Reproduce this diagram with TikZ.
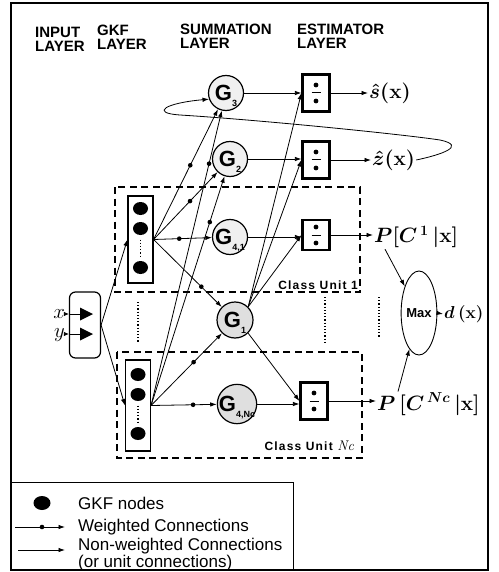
\documentclass[tikz,border=0pt]{standalone}
\usepackage{amsmath}
\usepackage{fontspec}
\newfontfamily\arial{Liberation Sans}
\usetikzlibrary{arrows.meta,shapes.geometric,calc}
\newcommand{\gsub}[1]{\smash{\raisebox{-6pt}{\fontsize{9}{9}\selectfont #1}}}
\begin{document}
\begin{tikzpicture}[x=1pt,y=-1pt,
  >={Latex[length=6.5pt,width=4.5pt]},
  conn/.style={line width=0.8pt,->},
  wdot/.style={circle,fill,inner sep=0pt,minimum size=4.6pt},
  gnode/.style={circle,draw,line width=1.2pt,fill=gray!12,minimum size=35pt,inner sep=0pt,
    font=\arial\bfseries\fontsize{22}{22}\selectfont},
  estbox/.style={draw,line width=2.2pt,minimum width=27pt,minimum height=#1,inner sep=0pt,
    path picture={
      \fill ($(path picture bounding box.center)+(0pt,8pt)$) circle[radius=2.4pt];
      \fill ($(path picture bounding box.center)+(0pt,-8pt)$) circle[radius=2.4pt];
      \draw[line width=1pt] ($(path picture bounding box.center)+(-4.5pt,0pt)$) -- ++(9pt,0pt);}},
  gkfblock/.style={draw,line width=1.1pt,minimum width=25pt,minimum height=#1,inner sep=0pt,
    path picture={
      \fill ($(path picture bounding box.center)+(0pt,31pt)$) ellipse[x radius=7.5pt,y radius=6.5pt];
      \fill ($(path picture bounding box.center)+(0pt,11pt)$) ellipse[x radius=7.5pt,y radius=6.5pt];
      \fill ($(path picture bounding box.center)+(0pt,-28pt)$) ellipse[x radius=7.5pt,y radius=6.5pt];
      \draw[line width=1.6pt,dash pattern=on 1.2pt off 2pt] ($(path picture bounding box.center)+(0pt,0pt)$) -- ++(0pt,-19pt);}},
  header/.style={anchor=north west,inner sep=0pt,align=left,
    font=\arial\bfseries\fontsize{15}{14}\selectfont},
  mathlab/.style={anchor=west,inner sep=1pt,font=\fontsize{20}{24}\selectfont\boldmath},
  plab/.style={anchor=west,inner sep=1pt,font=\fontsize{21}{25}\selectfont\boldmath},
  legtext/.style={anchor=west,inner sep=0pt,align=left,font=\arial\fontsize{17}{17}\selectfont},
  classbox/.style={line width=1.6pt,dash pattern=on 7pt off 4.5pt},
  classlab/.style={anchor=base east,inner sep=0pt,
    font=\arial\bfseries\fontsize{12}{12}\selectfont\addfontfeature{LetterSpace=10}},
  dotline/.style={line width=1.6pt,dash pattern=on 1.2pt off 2pt}
]
\useasboundingbox (0,0) rectangle (498,572);
% outer frame and legend frame
\draw[line width=1.4pt] (11,3) rectangle (488,570);
\draw[line width=0.9pt] (11,482) -- (293,482) -- (293,570);

% headers
\node[header] (h1) at (35,27) {INPUT\\LAYER};
\node[header] (h2) at (97,25) {GKF\\LAYER};
\node[header] (h3) at (180,24) {SUMMATION\\LAYER};
\node[header] (h4) at (297,24) {ESTIMATOR\\LAYER};

% class unit frames
\draw[classbox] (115,187) rectangle (360,292);
\draw[classbox] (117,352) rectangle (362,458);
\node[classlab] (cu1) at (358,289) {Class Unit 1};
\node[classlab] (cuN) at (354,450) {Class Unit {\rmfamily\mdseries\itshape\fontsize{14}{14}\selectfont Nc}};

% dotted separators
\draw[dotline] (138,302) -- (138,342);
\draw[dotline] (325,297) -- (325,342);
\draw[dotline] (379,297) -- (379,337);

% input layer
\node[draw,rounded corners=6pt,line width=1.2pt,minimum width=31pt,minimum height=66pt,inner sep=0pt] (ib) at (85,325) {};
\node[anchor=base east,inner sep=0pt,font=\fontsize{20}{20}\selectfont] (xl) at (65,318.5) {$x$};
\node[anchor=base east,inner sep=0pt,font=\fontsize{20}{20}\selectfont] (yl) at (65,337.5) {$y$};
\coordinate (xa) at (65,314);
\coordinate (ya) at (65,334);
\coordinate (xt) at (81,314);
\coordinate (yt) at (81,334);
\draw[line width=0.8pt,-{Latex[length=5pt,width=4.5pt]}] (xa) -- (ib.west |- xa);
\draw[line width=0.8pt,-{Latex[length=5pt,width=4.5pt]}] (ya) -- (ib.west |- ya);
\draw[line width=0.8pt] (ib.west |- xa) -- (xt);
\draw[line width=0.8pt] (ib.west |- ya) -- (yt);
\fill (80,307.5) -- (93,314) -- (80,320.5) -- cycle;
\fill (80,327.5) -- (93,334) -- (80,340.5) -- cycle;

% GKF layer
\node[gkfblock=87pt] (gkf1) at (140.5,239.5) {};
\node[gkfblock=91pt] (gkf2) at (138,405.5) {};
\draw[conn] (ib.east) -- (gkf1.west);
\draw[conn] (ib.east) -- (gkf2.west);

% summation layer
\node[gnode] (G3) at (226,93) {G\gsub{3}};
\node[gnode] (G2) at (230,159) {G\gsub{2}};
\node[gnode] (G41) at (230,237) {G\gsub{4,1}};
\node[gnode,fill=gray!25,minimum size=36pt] (G1) at (235,320) {G\gsub{1}};
\node[gnode,fill=gray!25,minimum size=37pt] (G4N) at (237,404) {G\gsub{4,Nc}};

% estimator layer
\node[estbox=37pt] (e1) at (316,93) {};
\node[estbox=37pt] (e2) at (316,160) {};
\node[estbox=30pt] (e3) at (316,235) {};
\node[estbox=37pt] (e4) at (314,401) {};

% outputs
\node[mathlab] (shat) at (368,93) {$\hat{s}(\mathbf{x})$};
\node[mathlab] (zhat) at (371,160) {$\hat{z}(\mathbf{x})$};
\node[plab] (P1) at (373,237) {$P[C^{\,1}\,|\mathbf{x}]$};
\node[plab] (PN) at (376,404) {$P\,[C^{\,Nc}\,|\mathbf{x}]$};
\node[ellipse,draw,line width=0.9pt,minimum width=34pt,minimum height=84pt,inner sep=0pt,
  font=\arial\bfseries\fontsize{13}{13}\selectfont] (mx) at (419,313) {Max};
\node[anchor=west,inner sep=1pt,font=\fontsize{17}{20}\selectfont\boldmath] (dx) at (443,314) {$d\,(\mathbf{x})$};

% weighted connections GKF -> summation
\draw[conn] (gkf1.east) -- node[wdot,pos=.57]{} (G3);
\draw[conn] (gkf1.east) -- node[wdot,pos=.57]{} (G2);
\draw[conn] (gkf1.east) -- node[wdot,pos=.44]{} (G41);
\draw[conn] (gkf1.east) -- node[wdot,pos=.70]{} (G1);
\draw[conn] (gkf2.east) -- node[wdot,pos=.82]{} (G3);
\draw[conn] (gkf2.east) -- node[wdot,pos=.80]{} (G2);
\draw[conn] (gkf2.east) -- node[wdot,pos=.60]{} (G1);
\draw[conn] (gkf2.east) -- node[wdot,pos=.64]{} (G4N);

% summation -> estimator
\draw[conn] (G3) -- (G3 -| e1.west);
\draw[conn] (G2) -- (G2 -| e2.west);
\draw[conn] (G41) -- (G41 -| e3.west);
\draw[conn] (G4N) -- (G4N -| e4.west);
\draw[conn] (G1.north east) -- (e1.west);
\draw[conn] (G1.north east) -- (e2.west);
\draw[conn] (G1.north east) -- (e3.west);
\draw[conn] (G1.south east) -- (e4.west);

% estimator -> outputs
\draw[conn] (e1.east) -- (e1.east -| shat.west);
\draw[conn] (e2.east) -- (e2.east -| zhat.west);
\draw[conn] (e3.east) -- (e3.east -| P1.west);
\draw[conn] (e4.east) -- (e4.east -| PN.west);
\draw[conn] ([xshift=12pt]P1.south west) -- (mx);
\draw[conn] ([xshift=22pt]PN.north west) -- (mx);
\draw[conn] (mx.east) -- (dx.west);

% feedback loop from z-hat to G3
\draw[conn] (zhat.east) .. controls (440,155) and (468,146) .. (440,140)
  .. controls (400,134) and (260,120) .. (180,115)
  .. controls (150,113) and (165,103) .. (G3.200);

% legend
\node[ellipse,fill,minimum width=17pt,minimum height=14pt,inner sep=0pt] (lg1) at (42,503) {};
\node[legtext] (lt1) at (78,503) {GKF nodes};
\coordinate (lw1) at (15,527);
\coordinate (lw2) at (65,527);
\draw[conn] (lw1) -- node[wdot,pos=.54]{} (lw2);
\node[legtext] (lt2) at (78,527) {Weighted Connections};
\coordinate (ln1) at (18,550);
\coordinate (ln2) at (65,550);
\draw[conn] (ln1) -- (ln2);
\node[legtext] (lt3) at (78,555) {Non-weighted Connections\\(or unit connections)};
\end{tikzpicture}
\end{document}
